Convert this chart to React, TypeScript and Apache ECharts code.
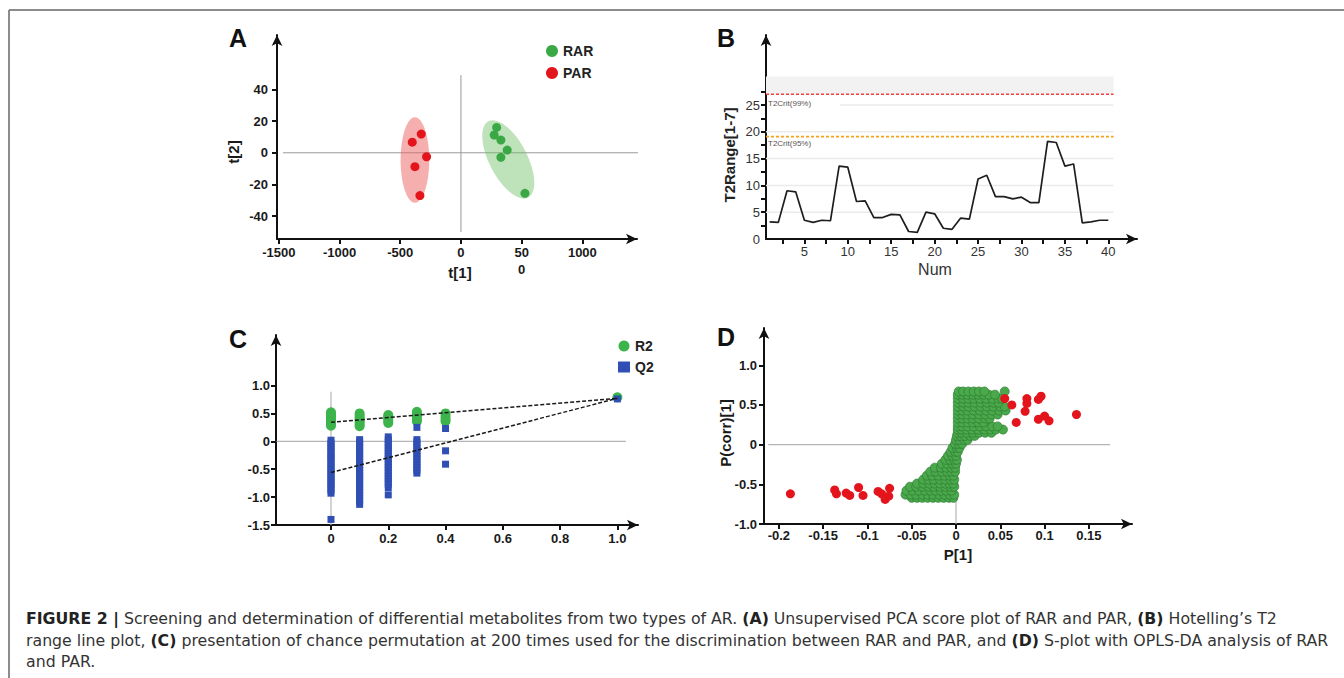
import { useEffect, useRef } from 'react';
import * as echarts from 'echarts';

const FONT = '"Liberation Sans", Arial, Helvetica, sans-serif';
const CAPTION_FONT = '"DejaVu Sans", "Liberation Sans", Arial, sans-serif';

// ---------------- Panel A : PCA score plot ----------------
const rarScores: number[][] = [[294, 16], [274, 11.2], [329, 8], [381, 1.7], [329, -2.9], [527, -25.6]];
const parScores: number[][] = [[-401, 6.7], [-327, 11.8], [-283, -2.5], [-379, -8.8], [-338, -27]];
// group ellipses: centre t[1], centre t[2], half-width (t[1] units), half-height (t[2] units), tilt (rad)
const rarEllipse = [390, -4.2, 156, 27.1, 0.48];
const parEllipse = [-379, -4.6, 118, 27, 0];
const aXTicks = [-1500, -1000, -500, 0, 500, 1000];
const aYTicks = [-40, -20, 0, 20, 40];
const aCrossV = [[0, 49], [0, -50]];
const aCrossH = [[-1466, 0], [1480, 0]];

// ---------------- Panel B : Hotelling's T2 range ----------------
const bNum = [1, 2, 3, 4, 5, 6, 7, 8, 9, 10, 11, 12, 13, 14, 15, 16, 17, 18, 19, 20,
  21, 22, 23, 24, 25, 26, 27, 28, 29, 30, 31, 32, 33, 34, 35, 36, 37, 38, 39, 40];
const bT2Range = [3.2, 3.1, 9.0, 8.8, 3.5, 3.1, 3.5, 3.4, 13.6, 13.4, 7.0, 7.1, 4.0, 4.0, 4.6, 4.5,
  1.4, 1.25, 5.0, 4.7, 2.0, 1.8, 3.9, 3.7, 11.2, 11.9, 7.9, 7.9, 7.5, 7.8, 6.8, 6.8,
  18.2, 18.0, 13.6, 14.0, 3.0, 3.2, 3.5, 3.5];
const bT2Crit99 = 27.0;
const bT2Crit95 = 19.1;
const bBandTop = 30.3;
const bXMin = 0.58;
const bXEnd = 40.6;
const bGridLevels = [[bXMin, 5], [bXMin, 10], [bXMin, 15], [bXMin, 20], [9.1, 25]];
const bXTicks = [2.5, 5, 7.5, 10, 12.5, 15, 17.5, 20, 22.5, 25, 27.5, 30, 32.5, 35, 37.5, 40];
const bXLabels = [5, 10, 15, 20, 25, 30, 35, 40];
const bYTicks = [2.5, 5, 7.5, 10, 12.5, 15, 17.5, 20, 22.5, 25, 27.5];
const bYLabels = [0, 5, 10, 15, 20, 25];

// ---------------- Panel C : permutation test ----------------
const cR2: number[][] = [
  [0, 0.52], [0, 0.48], [0, 0.45], [0, 0.42], [0, 0.38], [0, 0.35], [0, 0.31], [0, 0.28],
  [0.1, 0.50], [0.1, 0.46], [0.1, 0.42], [0.1, 0.38], [0.1, 0.34], [0.1, 0.30], [0.1, 0.27],
  [0.2, 0.47], [0.2, 0.44], [0.2, 0.41], [0.2, 0.37], [0.2, 0.33],
  [0.3, 0.53], [0.3, 0.49], [0.3, 0.45], [0.3, 0.40], [0.3, 0.36],
  [0.4, 0.50], [0.4, 0.45], [0.4, 0.40], [0.4, 0.36],
  [1.0, 0.79],
];
const cQ2: number[][] = [
  [0, 0.02], [0, -0.03], [0, -0.08], [0, -0.12], [0, -0.17], [0, -0.22], [0, -0.27], [0, -0.31],
  [0, -0.36], [0, -0.41], [0, -0.46], [0, -0.50], [0, -0.55], [0, -0.60], [0, -0.64], [0, -0.69],
  [0, -0.74], [0, -0.78], [0, -0.83], [0, -0.88], [0, -0.93], [0, -1.40],
  [0.1, 0.03], [0.1, -0.02], [0.1, -0.07], [0.1, -0.12], [0.1, -0.17], [0.1, -0.22], [0.1, -0.27],
  [0.1, -0.32], [0.1, -0.37], [0.1, -0.42], [0.1, -0.47], [0.1, -0.52], [0.1, -0.57], [0.1, -0.62],
  [0.1, -0.67], [0.1, -0.72], [0.1, -0.77], [0.1, -0.82], [0.1, -0.87], [0.1, -0.92], [0.1, -0.97],
  [0.1, -1.02], [0.1, -1.07], [0.1, -1.13],
  [0.2, 0.08], [0.2, 0.03], [0.2, -0.02], [0.2, -0.07], [0.2, -0.12], [0.2, -0.17], [0.2, -0.22],
  [0.2, -0.27], [0.2, -0.32], [0.2, -0.37], [0.2, -0.42], [0.2, -0.47], [0.2, -0.52], [0.2, -0.57],
  [0.2, -0.62], [0.2, -0.67], [0.2, -0.72], [0.2, -0.77], [0.2, -0.83], [0.2, -0.96],
  [0.3, 0.25], [0.3, 0.03], [0.3, -0.02], [0.3, -0.07], [0.3, -0.12], [0.3, -0.17], [0.3, -0.22],
  [0.3, -0.27], [0.3, -0.32], [0.3, -0.37], [0.3, -0.42], [0.3, -0.47], [0.3, -0.52], [0.3, -0.57],
  [0.4, 0.23], [0.4, -0.17], [0.4, -0.41],
  [1.0, 0.76],
];
const cR2Fit = [[0, 0.34], [1.0, 0.77]];
const cQ2Fit = [[0, -0.56], [1.0, 0.77]];
const cCrossV = [[0, 0.89], [0, -1.5]];
const cCrossH = [[-0.19, 0], [1.03, 0]];
const cXTicks = [0, 0.2, 0.4, 0.6, 0.8, 1.0];
const cYTicks = [-1.5, -1.0, -0.5, 0, 0.5, 1.0];

// ---------------- Panel D : S-plot ----------------
const dGreenRows: [number, number[]][] = [
  [-0.67, [-0.050, -0.044, -0.038, -0.032, -0.026, -0.020, -0.014, -0.008, -0.003]],
  [-0.63, [-0.057, -0.051, -0.045, -0.038, -0.032, -0.026, -0.019, -0.013, -0.007, -0.002]],
  [-0.58, [-0.056, -0.049, -0.042, -0.035, -0.029, -0.023, -0.017, -0.011, -0.005]],
  [-0.53, [-0.052, -0.045, -0.038, -0.031, -0.025, -0.018, -0.012, -0.006, -0.002]],
  [-0.49, [-0.044, -0.037, -0.030, -0.024, -0.018, -0.012, -0.007, -0.003]],
  [-0.44, [-0.037, -0.031, -0.025, -0.018, -0.012, -0.006, -0.002]],
  [-0.39, [-0.033, -0.027, -0.020, -0.013, -0.007, -0.003]],
  [-0.34, [-0.029, -0.023, -0.016, -0.010, -0.005, -0.001]],
  [-0.29, [-0.024, -0.017, -0.011, -0.005, -0.001]],
  [-0.24, [-0.016, -0.010, -0.004, 0.000]],
  [-0.19, [-0.012, -0.007, -0.002, 0.001]],
  [-0.14, [-0.009, -0.004, 0.000]],
  [-0.09, [-0.006, -0.001, 0.002]],
  [-0.04, [-0.004, 0.001, 0.004]],
  [0.01, [-0.001, 0.003, 0.007]],
  [0.06, [0.000, 0.004, 0.009, 0.013]],
  [0.11, [0.001, 0.005, 0.010, 0.016, 0.021]],
  [0.15, [0.002, 0.006, 0.012, 0.019, 0.026, 0.033, 0.040]],
  [0.19, [0.002, 0.006, 0.012, 0.018, 0.025, 0.032, 0.039, 0.045, 0.053]],
  [0.23, [0.002, 0.007, 0.013, 0.020, 0.027, 0.034, 0.041, 0.047]],
  [0.28, [0.002, 0.007, 0.013, 0.019, 0.025, 0.031]],
  [0.33, [0.002, 0.007, 0.013, 0.019, 0.026, 0.033, 0.038]],
  [0.38, [0.002, 0.007, 0.013, 0.019, 0.026, 0.033, 0.040, 0.047]],
  [0.43, [0.002, 0.007, 0.013, 0.020, 0.027, 0.034, 0.041, 0.049, 0.056]],
  [0.48, [0.002, 0.008, 0.014, 0.021, 0.028, 0.035, 0.042, 0.050, 0.055]],
  [0.53, [0.002, 0.008, 0.014, 0.021, 0.028, 0.035, 0.042, 0.048]],
  [0.58, [0.002, 0.008, 0.014, 0.020, 0.027, 0.034, 0.041, 0.048, 0.052]],
  [0.63, [0.002, 0.007, 0.013, 0.019, 0.025, 0.031, 0.037, 0.044]],
  [0.67, [0.003, 0.008, 0.014, 0.020, 0.026, 0.032, 0.055]],
];
const dRed: number[][] = [
  [0.055, 0.58], [0.063, 0.50], [0.080, 0.58], [0.080, 0.52], [0.078, 0.42], [0.093, 0.57],
  [0.096, 0.61], [0.068, 0.28], [0.093, 0.32], [0.100, 0.36], [0.105, 0.30], [0.136, 0.38],
  [-0.187, -0.62], [-0.137, -0.57], [-0.135, -0.62], [-0.124, -0.61], [-0.120, -0.64], [-0.110, -0.54],
  [-0.105, -0.64], [-0.088, -0.59], [-0.084, -0.62], [-0.080, -0.69], [-0.075, -0.55], [-0.076, -0.65],
];
const dCrossV = [[0, 0.68], [0, -1.0]];
const dCrossH = [[-0.212, 0], [0.174, 0]];
const dXTicks = [-0.2, -0.15, -0.1, -0.05, 0, 0.05, 0.1, 0.15];
const dYTicks = [-1.0, -0.5, 0, 0.5, 1.0];

// ---------------- Caption ----------------
const captionLines = [
  '{b|FIGURE 2 |} Screening and determination of differential metabolites from two types of AR. {b|(A)} Unsupervised PCA score plot of RAR and PAR, {b|(B)} Hotelling\u2019s T2',
  'range line plot, {b|(C)} presentation of chance permutation at 200 times used for the discrimination between RAR and PAR, and {b|(D)} S-plot with OPLS-DA analysis of RAR',
  'and PAR.',
];

function mkAxis(gridIndex: number, min: number, max: number, ticks: number[], labels: number[],
  fmt: (v: number) => string, margin: number, bold: boolean) {
  return {
    type: 'value', gridIndex, min, max,
    axisLine: {
      show: true, onZero: false, symbol: ['none', 'arrow'], symbolSize: [8, 11],
      lineStyle: { color: '#111', width: 2 },
    },
    axisTick: { show: true, customValues: ticks, length: 5, lineStyle: { color: '#111', width: 2 } },
    axisLabel: {
      show: true, customValues: labels, formatter: (v: number) => fmt(v), margin,
      fontFamily: FONT, fontSize: 13, fontWeight: bold ? 'bold' : 'normal', color: bold ? '#1a1a1a' : '#333',
      lineHeight: 17,
    },
    splitLine: { show: false },
  };
}

const oneDec = (v: number) => (Math.abs(v) < 1e-9 ? '0' : v.toFixed(1));

function plain(xi: number, data: number[][], color: string, width: number, type: any = 'solid', z = 2) {
  return {
    type: 'line', xAxisIndex: xi, yAxisIndex: xi, data, symbol: 'none', silent: true, z,
    lineStyle: { color, width, type }, clip: false,
  };
}

function ellipseSeries(data: number[], color: string) {
  return {
    type: 'custom', xAxisIndex: 0, yAxisIndex: 0, coordinateSystem: 'cartesian2d', silent: true, z: 2,
    data: [data], clip: false,
    renderItem: (_p: any, api: any) => {
      const c = api.coord([api.value(0), api.value(1)]);
      const s = api.size([api.value(2), api.value(3)]);
      return {
        type: 'ellipse', x: c[0], y: c[1], rotation: api.value(4),
        shape: { cx: 0, cy: 0, rx: s[0], ry: s[1] }, style: { fill: color },
      };
    },
  };
}

function txt(x: number, y: number, text: string, size: number, weight: string, color = '#111', rot = 0, align = 'center') {
  return {
    type: 'text', x, y, rotation: rot, silent: true,
    style: { text, fill: color, fontSize: size, fontWeight: weight, fontFamily: FONT, align, verticalAlign: 'middle' },
  };
}

export default function App() {
  const ref = useRef<HTMLDivElement>(null);
  useEffect(() => {
    const chart = echarts.init(ref.current!, null, { renderer: 'svg' });
    const dGreen: number[][] = [];
    dGreenRows.forEach(([y, xs]) => xs.forEach((x) => dGreen.push([x, y])));

    const option: any = {
      animation: false,
      backgroundColor: '#fff',
      grid: [
        { left: 277, top: 35, width: 360, height: 204 },
        { left: 766, top: 35, width: 371, height: 204 },
        { left: 276, top: 335, width: 362, height: 190 },
        { left: 764, top: 328, width: 368, height: 196 },
      ],
      xAxis: [
        mkAxis(0, -1515, 1450, aXTicks, aXTicks, (v) => (v === 500 ? '50\n0' : String(v)), 5, true),
        mkAxis(1, bXMin, 43.3, bXTicks, bXLabels, (v) => String(v), 4, false),
        mkAxis(2, -0.192, 1.072, cXTicks, cXTicks, oneDec, 5, true),
        mkAxis(3, -0.2168, 0.1987, dXTicks, dXTicks, (v) => (Math.abs(v) < 1e-9 ? '0' : String(v)), 3, true),
      ],
      yAxis: [
        mkAxis(0, -54.4, 74.3, aYTicks, aYTicks, (v) => String(v), 9, true),
        mkAxis(1, 0, 38.06, bYTicks, bYLabels, (v) => String(v), 6, false),
        mkAxis(2, -1.5, 1.906, cYTicks, cYTicks, oneDec, 6, true),
        mkAxis(3, -1.0, 1.47, dYTicks, dYTicks, oneDec, 7, true),
      ],
      legend: [
        {
          data: [{ name: 'RAR', icon: 'circle' }, { name: 'PAR', icon: 'circle' }],
          left: 541, top: 39, orient: 'vertical', itemWidth: 12, itemHeight: 12, itemGap: 8,
          selectedMode: false, textStyle: { fontFamily: FONT, fontWeight: 'bold', fontSize: 14, color: '#222' },
        },
        {
          data: [{ name: 'R2', icon: 'circle' }, { name: 'Q2', icon: 'rect' }],
          left: 613, top: 334, orient: 'vertical', itemWidth: 12, itemHeight: 11, itemGap: 7,
          selectedMode: false, textStyle: { fontFamily: FONT, fontWeight: 'bold', fontSize: 14, color: '#222' },
        },
      ],
      series: [
        // ---- A ----
        plain(0, aCrossV, '#9a9a9a', 1, 'solid', 1),
        plain(0, aCrossH, '#9a9a9a', 1, 'solid', 1),
        ellipseSeries(parEllipse, 'rgba(238, 96, 96, 0.5)'),
        ellipseSeries(rarEllipse, 'rgba(110, 190, 100, 0.45)'),
        {
          name: 'RAR', type: 'scatter', xAxisIndex: 0, yAxisIndex: 0, data: rarScores, symbolSize: 9, z: 3,
          itemStyle: { color: '#3aa845', opacity: 1 },
        },
        {
          name: 'PAR', type: 'scatter', xAxisIndex: 0, yAxisIndex: 0, data: parScores, symbolSize: 9, z: 3,
          itemStyle: { color: '#e3141b', opacity: 1 },
        },
        // ---- B ----
        ...bGridLevels.map((g) => plain(1, [[g[0], g[1]], [bXEnd, g[1]]], '#ebebeb', 1.5, 'solid', 1)),
        plain(1, [[bXMin, bT2Crit99], [bXEnd, bT2Crit99]], '#f04040', 1.5, [3, 2], 3),
        plain(1, [[bXMin, bT2Crit95], [bXEnd, bT2Crit95]], '#f5a21c', 1.8, [3, 2], 3),
        {
          type: 'line', xAxisIndex: 1, yAxisIndex: 1, data: bNum.map((n, i) => [n, bT2Range[i]]),
          symbol: 'none', z: 4, lineStyle: { color: '#1e1e1e', width: 1.7 },
          markArea: {
            silent: true, itemStyle: { color: '#f2f2f2' },
            data: [[{ coord: [bXMin, bT2Crit99] }, { coord: [bXEnd, bBandTop] }]],
          },
        },
        // ---- C ----
        plain(2, cCrossV, '#b5b5b5', 1.2, 'solid', 1),
        plain(2, cCrossH, '#b5b5b5', 1.2, 'solid', 1),
        {
          name: 'R2', type: 'scatter', xAxisIndex: 2, yAxisIndex: 2, data: cR2, symbol: 'circle', symbolSize: 10, z: 3,
          itemStyle: { color: '#3cb44b', opacity: 1 },
        },
        {
          name: 'Q2', type: 'scatter', xAxisIndex: 2, yAxisIndex: 2, data: cQ2, symbol: 'rect', symbolSize: 7, z: 3,
          itemStyle: { color: '#2f4fb4', opacity: 1 },
        },
        plain(2, cR2Fit, '#1a1a1a', 1.5, [4, 2], 5),
        plain(2, cQ2Fit, '#1a1a1a', 1.5, [4, 2], 5),
        // ---- D ----
        plain(3, dCrossV, '#b5b5b5', 1.2, 'solid', 1),
        plain(3, dCrossH, '#b5b5b5', 1.2, 'solid', 1),
        {
          type: 'scatter', xAxisIndex: 3, yAxisIndex: 3, data: dGreen, symbolSize: 9, z: 3, silent: true,
          itemStyle: { color: '#4aa94a', borderColor: '#2e7a33', borderWidth: 0.7, opacity: 1 },
        },
        {
          type: 'scatter', xAxisIndex: 3, yAxisIndex: 3, data: dRed, symbolSize: 9, z: 4, silent: true,
          itemStyle: { color: '#e3141b', opacity: 1 },
        },
      ],
      graphic: [
        { type: 'line', silent: true, shape: { x1: 9, y1: 10, x2: 1344, y2: 10 }, style: { stroke: '#666', lineWidth: 1.5 } },
        { type: 'line', silent: true, shape: { x1: 9, y1: 10, x2: 9, y2: 678 }, style: { stroke: '#666', lineWidth: 1.5 } },
        txt(238, 38, 'A', 25, 'bold'),
        txt(726, 38, 'B', 25, 'bold'),
        txt(238, 339, 'C', 25, 'bold'),
        txt(726, 337, 'D', 25, 'bold'),
        txt(233, 152, 't[2]', 15, 'bold', '#1a1a1a', Math.PI / 2),
        txt(460, 272, 't[1]', 15, 'bold', '#1a1a1a'),
        txt(729, 155, 'T2Range[1-7]', 15, 'bold', '#222', Math.PI / 2),
        txt(935, 269, 'Num', 16, 'normal', '#333'),
        txt(725, 433, 'P(corr)[1]', 15, 'bold', '#1a1a1a', Math.PI / 2),
        txt(958, 554, 'P[1]', 15, 'bold', '#1a1a1a'),
        txt(768, 103, 'T2Crit(99%)', 8, 'normal', '#555', 0, 'left'),
        txt(768, 143, 'T2Crit(95%)', 8, 'normal', '#555', 0, 'left'),
        ...captionLines.map((t, i) => ({
          type: 'text', x: 26, y: [618, 640, 661][i], silent: true,
          style: {
            text: t, fill: '#333', fontSize: 15.75, fontFamily: CAPTION_FONT, align: 'left', verticalAlign: 'middle',
            rich: { b: { fontWeight: 'bold', fill: '#222', fontSize: 15.75, fontFamily: CAPTION_FONT } },
          },
        })),
      ],
    };
    chart.setOption(option);
    return () => chart.dispose();
  }, []);
  return <div ref={ref} style={{ position: 'absolute', left: 0, top: 0, width: 1344, height: 678 }} />;
}
